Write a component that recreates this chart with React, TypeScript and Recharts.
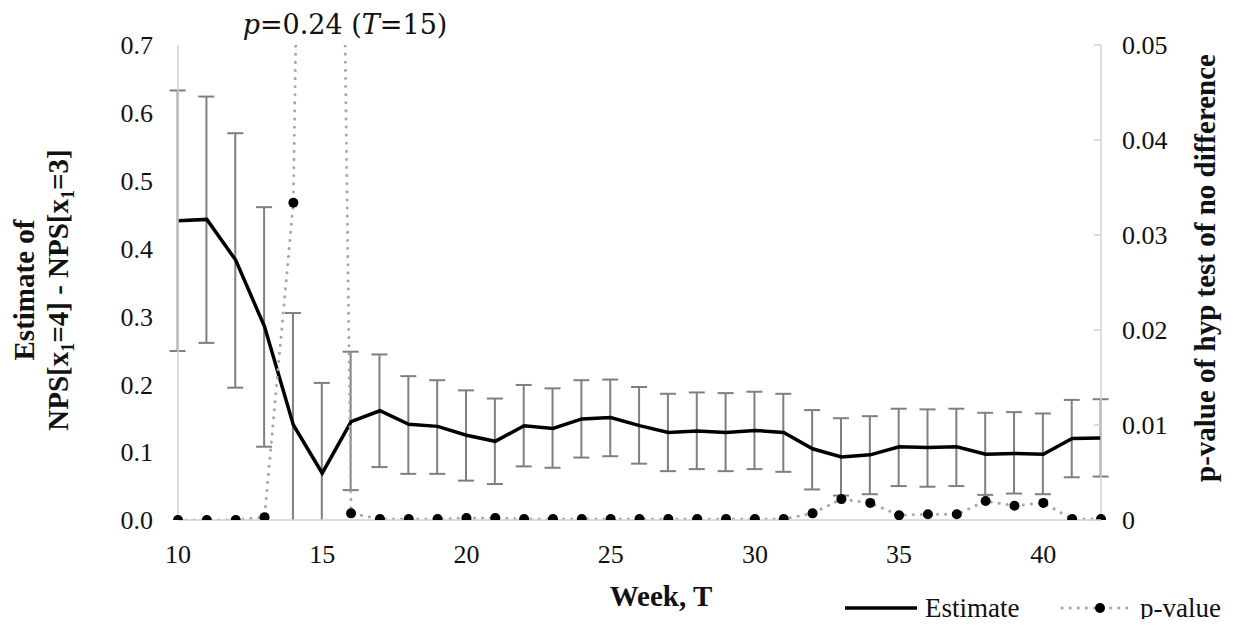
import { ComposedChart, Line, Bar, XAxis, YAxis } from 'recharts'

const weeks = [10, 11, 12, 13, 14, 15, 16, 17, 18, 19, 20, 21, 22, 23, 24, 25, 26, 27, 28, 29, 30, 31, 32, 33, 34, 35, 36, 37, 38, 39, 40, 41, 42]
const estimate = [0.441, 0.443, 0.383, 0.285, 0.14, 0.069, 0.145, 0.161, 0.141, 0.138, 0.125, 0.116, 0.139, 0.135, 0.149, 0.151, 0.139, 0.129, 0.131, 0.129, 0.132, 0.129, 0.105, 0.093, 0.096, 0.108, 0.107, 0.108, 0.097, 0.098, 0.097, 0.12, 0.121]
const upper = [0.633, 0.624, 0.57, 0.461, 0.305, 0.202, 0.248, 0.244, 0.212, 0.206, 0.191, 0.179, 0.199, 0.194, 0.206, 0.207, 0.196, 0.186, 0.188, 0.187, 0.189, 0.186, 0.162, 0.15, 0.153, 0.164, 0.163, 0.164, 0.158, 0.159, 0.157, 0.177, 0.178]
const lower = [0.249, 0.261, 0.195, 0.108, -0.025, -0.064, 0.044, 0.078, 0.068, 0.068, 0.058, 0.053, 0.079, 0.077, 0.092, 0.094, 0.083, 0.072, 0.075, 0.072, 0.075, 0.071, 0.045, 0.036, 0.038, 0.05, 0.049, 0.05, 0.037, 0.039, 0.038, 0.063, 0.064]
const pValue = [0, 0, 0, 0.0003, 0.0334, 0.24, 0.0007, 0.0001, 0.0001, 0.0001, 0.0002, 0.0002, 0.0001, 0.0001, 0.0001, 0.0001, 0.0001, 0.0001, 0.0001, 0.0001, 0.0001, 0.0001, 0.0007, 0.0022, 0.0018, 0.0005, 0.0006, 0.0006, 0.002, 0.0015, 0.0018, 0.0001, 0.0001]

const xTicks = [10, 15, 20, 25, 30, 35, 40]
const leftTicks = [0, 0.1, 0.2, 0.3, 0.4, 0.5, 0.6, 0.7]
const rightTicks = [0, 0.01, 0.02, 0.03, 0.04, 0.05]

// error interval drawn as a range bar, cut at the 0 floor like the original
const data = weeks.map((week, i) => ({
  week,
  estimate: estimate[i],
  lower: lower[i],
  range: [Math.max(lower[i], 0), upper[i]],
  pValue: pValue[i],
}))

const serif = '"Liberation Serif", "Times New Roman", "DejaVu Serif", serif'
const mathSerif = '"DejaVu Serif", serif'
const axisGray = '#d0d0d0'
const barGray = '#7f7f7f'
const tickStyle = { fontSize: 26, fill: '#111', style: { fontFamily: serif } }

function Whisker(props: any) {
  const { x, y, width, height, payload } = props
  if (x == null || y == null) return null
  const cx = x + width / 2
  const cap = 8
  return (
    <g stroke={barGray} strokeWidth={2}>
      <line x1={cx} x2={cx} y1={y} y2={y + height} />
      <line x1={cx - cap} x2={cx + cap} y1={y} y2={y} />
      {payload.lower >= 0 && <line x1={cx - cap} x2={cx + cap} y1={y + height} y2={y + height} />}
    </g>
  )
}

function RightTick(props: any) {
  const { x, y, payload } = props
  const v = payload.value
  return (
    <g>
      <line x1={x - 28} x2={x - 21} y1={y} y2={y} stroke={axisGray} strokeWidth={1.5} />
      <text x={x} y={y} dy="0.355em" textAnchor="start" fontSize={26} fill="#111" style={{ fontFamily: serif }}>
        {v === 0 ? '0' : v.toFixed(2)}
      </text>
    </g>
  )
}

function LeftTitle() {
  const cy = 282
  return (
    <g fontSize={29} fontWeight="bold" fill="#111" style={{ fontFamily: serif }}>
      <text x={26} y={cy} textAnchor="middle" transform={`rotate(-90 26 ${cy})`}>Estimate of</text>
      <text x={60} y={cy} textAnchor="middle" transform={`rotate(-90 60 ${cy})`}>
        NPS[x<tspan fontSize={18} dy={6}>1</tspan><tspan dy={-6}>=4] - NPS[x</tspan>
        <tspan fontSize={18} dy={6}>1</tspan><tspan dy={-6}>=3]</tspan>
      </text>
    </g>
  )
}

function RightTitle() {
  const cx = 1207
  const cy = 260
  return (
    <text x={cx} y={cy} textAnchor="middle" transform={`rotate(-90 ${cx} ${cy})`}
      fontSize={29} fontWeight="bold" fill="#111" style={{ fontFamily: serif }}>
      p-value of hyp test of no difference
    </text>
  )
}

function XTitle() {
  return (
    <text x={653} y={598} textAnchor="middle" fontSize={29} fontWeight="bold" fill="#111" style={{ fontFamily: serif }}>
      Week, T
    </text>
  )
}

export default function App() {
  return (
    <div style={{ position: 'relative', width: 1222, height: 611, fontFamily: serif }}>
      <style>{`.recharts-wrapper text, .recharts-wrapper tspan { font-family: ${serif}; }`}</style>
      <ComposedChart width={1222} height={611} data={data} margin={{ top: 37, right: 29, bottom: 59, left: 70 }}>
        <XAxis
          dataKey="week"
          type="number"
          domain={[10, 42]}
          ticks={xTicks}
          tickLine={false}
          tickSize={0}
          tickMargin={25}
          height={40}
          stroke={axisGray}
          strokeWidth={1.5}
          tick={tickStyle}
          label={<XTitle />}
        />
        <YAxis
          yAxisId="left"
          domain={[0, 0.7]}
          ticks={leftTicks}
          allowDataOverflow
          tickFormatter={(v: number) => v.toFixed(1)}
          tickLine={false}
          tickSize={0}
          tickMargin={25}
          width={100}
          stroke={axisGray}
          strokeWidth={1.5}
          tick={tickStyle}
          label={<LeftTitle />}
        />
        <YAxis
          yAxisId="right"
          orientation="right"
          domain={[0, 0.05]}
          ticks={rightTicks}
          allowDataOverflow
          tickLine={false}
          tickSize={0}
          tickMargin={21}
          width={100}
          stroke={axisGray}
          strokeWidth={1.5}
          tick={<RightTick />}
          label={<RightTitle />}
        />
        <Bar
          yAxisId="left"
          dataKey="range"
          barSize={16}
          shape={<Whisker />}
          isAnimationActive={false}
        />
        <Line
          yAxisId="left"
          dataKey="estimate"
          type="linear"
          stroke="#000"
          strokeWidth={3.5}
          dot={false}
          activeDot={false}
          isAnimationActive={false}
        />
        <Line
          yAxisId="right"
          dataKey="pValue"
          type="linear"
          stroke="#a6a6a6"
          strokeWidth={3}
          strokeDasharray="0.1 8"
          strokeLinecap="round"
          dot={{ r: 5, fill: '#000', stroke: '#000', strokeWidth: 0 }}
          activeDot={false}
          isAnimationActive={false}
        />
      </ComposedChart>
      <svg width={1222} height={611} style={{ position: 'absolute', left: 0, top: 0, pointerEvents: 'none', overflow: 'visible' }}>
        <text x={337} y={26} textAnchor="middle" fontSize={27} fill="#111" style={{ fontFamily: mathSerif }}>
          <tspan fontStyle="italic">p</tspan>=0.24 (<tspan fontStyle="italic">T</tspan>=15)
        </text>
        <g transform="translate(830 583)">
          <line x1={7} x2={79} y1={17} y2={17} stroke="#000" strokeWidth={3.5} />
          <text x={87} y={26} fontSize={27} fill="#111" style={{ fontFamily: serif }}>Estimate</text>
          <line x1={224} x2={294} y1={17} y2={17} stroke="#a6a6a6" strokeWidth={3} strokeDasharray="0.1 8" strokeLinecap="round" />
          <circle cx={262} cy={17} r={5} fill="#000" />
          <text x={302} y={26} fontSize={27} fill="#111" style={{ fontFamily: serif }}>p-value</text>
        </g>
      </svg>
    </div>
  )
}
